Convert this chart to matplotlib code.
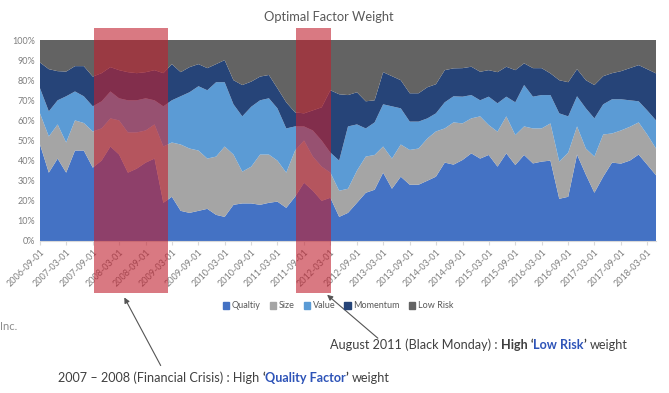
import matplotlib
matplotlib.use("Agg")
import matplotlib.pyplot as plt
import pandas as pd
from matplotlib.patches import Patch

plt.rcParams["font.family"] = ["Lato", "DejaVu Sans"]

# bi-monthly points, 2006-09 .. 2018-05
dates = pd.date_range("2006-09-01", periods=71, freq="2MS")

quality = [48, 34, 41, 34, 45, 45, 36.5, 40, 47, 43, 34, 36, 39, 41, 19, 22, 15, 14,
           15, 16, 13, 12, 18, 18.7, 18.7, 18, 19, 19.6, 16.5, 22, 29, 25, 20, 21.5,
           12, 14, 19, 24, 25.5, 34, 26, 32, 28, 28, 30, 32, 39, 38, 40.3, 43.6, 41,
           42.8, 37, 43.6, 37.8, 42.8, 38.6, 39.5, 40, 21, 22, 43, 33, 24, 32, 39,
           38.5, 40, 43, 38, 32.7]
size = [15.5, 18, 17, 15, 15, 13.7, 18, 16, 14, 17, 20, 18, 16, 17, 28, 27, 33, 32,
        30, 25, 29, 35, 25, 15.8, 18.3, 25, 24, 20.4, 17.5, 23, 21, 17, 17, 12.5,
        13, 12, 16, 18, 17.3, 13, 15, 16, 17.3, 18, 21, 22.5, 17, 21, 18.2, 17.4, 21,
        14.9, 17.4, 18.4, 14.9, 14.2, 17.4, 16.5, 18.5, 18.5, 22, 14, 13, 18, 21,
        14.5, 16.5, 16.8, 16, 15, 13.3]
value = [12.5, 12.5, 12, 23, 14.4, 13.3, 12.5, 13.5, 13.4, 11, 16, 16, 16, 12, 20,
         21, 24, 28, 32, 34, 37, 32, 25, 27.5, 29.8, 27, 28, 26, 22, 12, 7, 13, 13,
         10, 15, 31, 23, 14, 16.2, 21, 26, 18, 14.1, 13.4, 10, 9, 13, 13, 13.3, 11.6,
         8, 14.1, 14.1, 9.8, 16.3, 20.6, 15.8, 16.6, 14.1, 24, 18, 15, 20, 19, 15,
         17, 15.5, 13.2, 10.5, 12, 14]
momentum = [12.8, 21, 14.5, 12.3, 12.6, 15, 14.8, 14, 12.1, 14, 14, 13.5, 13, 15,
            16.5, 18, 12, 12.5, 11, 11, 9, 11, 12, 15.6, 12.5, 11.8, 11.6, 10, 13, 7,
            6.5, 10, 16.5, 31, 33, 15.6, 16, 13.5, 11, 16, 15, 14, 14.1, 14.1, 15.5,
            14.5, 16, 13.9, 14.2, 14.1, 14.2, 13.2, 15.5, 14.9, 16, 10.8, 14.2, 13.4,
            10.8, 16.5, 17, 13.5, 14, 16.6, 14, 13, 14, 16, 18, 20.5, 23.4]
low_risk = [11.2, 14.5, 15.5, 15.7, 13, 13, 18.2, 16.5, 13.5, 15, 16, 16.5, 16, 15,
            16.5, 12, 16, 13.5, 12, 14, 12, 10, 20, 22.4, 20.7, 18.2, 17.4, 24, 31, 36,
            36.5, 35, 33.5, 25, 27, 27.4, 26, 30.5, 30, 16, 18, 20, 26.5, 26.5, 23.5,
            22, 15, 14.1, 14, 13.3, 15.8, 15, 16, 13.3, 15, 11.6, 14, 14, 16.6, 20, 21,
            14.5, 20, 22.4, 18, 16.5, 15.5, 14, 12.5, 14.5, 16.6]

names = ["Qualtiy", "Size", "Value", "Momentum", "Low Risk"]
colors = ["#4472C4", "#A5A5A5", "#5B9BD5", "#264478", "#636363"]

tick_dates = pd.date_range("2006-09-01", "2018-03-01", freq="6MS")
crisis_spans = [("2007-09-10", "2009-02-05"), ("2011-07-10", "2012-03-05")]

W, H = 669, 393
fig = plt.figure(figsize=(W / 100, H / 100), dpi=100)
ax = fig.add_axes([40 / W, 1 - 241 / H, 616 / W, 201 / H])

series = [[v / 100 for v in s] for s in (quality, size, value, momentum, low_risk)]
ax.stackplot(dates, *series, colors=colors, linewidth=0)
ax.set_xlim(dates[0], dates[-1])
ax.set_ylim(0, 1)

ax.set_yticks([i / 10 for i in range(11)])
ax.set_yticklabels([f"{i * 10}%" for i in range(11)])
ax.set_xticks(tick_dates)
ax.set_xticklabels([d.strftime("%Y-%m-%d") for d in tick_dates], rotation=45,
                   ha="right", rotation_mode="anchor")
ax.tick_params(axis="both", labelsize=6.5, colors="#7f7f7f", length=0)
ax.tick_params(axis="x", length=3, color="#d9d9d9", pad=2)
for side in ["top", "right", "left"]:
    ax.spines[side].set_visible(False)
ax.spines["bottom"].set_color("#d9d9d9")

for start, end in crisis_spans:
    ax.axvspan(pd.Timestamp(start), pd.Timestamp(end), ymin=-0.26, ymax=1.06,
               color="#c0202f", alpha=0.6, lw=0, clip_on=False, zorder=5)

fig.text(329 / W, 1 - 17 / H, "Optimal Factor Weight", ha="center", va="center",
         fontsize=9.3, color="#595959")

handles = [Patch(color=c, label=n) for c, n in zip(colors, names)]
fig.legend(handles=handles, loc="center", bbox_to_anchor=(338 / W, 1 - 306 / H),
           ncol=5, frameon=False, fontsize=6.5, handlelength=0.7, handleheight=0.7,
           handletextpad=0.3, columnspacing=1.0, labelcolor="#595959")

fig.text(0, 1 - 327 / H, "Inc.", fontsize=8, color="#8c8c8c", va="center")


def rich_text(x, y, parts, size=9.1):
    renderer = fig.canvas.get_renderer()
    for s, color, weight in parts:
        t = fig.text(x / W, 1 - y / H, s, fontsize=size, color=color,
                     fontweight=weight, va="center", ha="left")
        x += t.get_window_extent(renderer).width


dark = "#404040"
blue = "#2E54B8"
rich_text(330, 345, [("August 2011 (Black Monday) : ", dark, "normal"),
                     ("High \u2018", dark, "bold"), ("Low Risk", blue, "bold"),
                     ("\u2019 ", dark, "bold"), ("weight", dark, "normal")])
rich_text(58, 378, [("2007 \u2013 2008 (Financial Crisis) : High ", dark, "normal"),
                    ("\u2018", dark, "bold"), ("Quality Factor", blue, "bold"),
                    ("\u2019 ", dark, "bold"), ("weight", dark, "normal")])

arrow = dict(arrowstyle="-|>", color="#555555", lw=0.8, mutation_scale=8)
ax.annotate("", xy=(325, H - 293), xytext=(380, H - 340), xycoords="figure pixels",
            textcoords="figure pixels", arrowprops=arrow)
ax.annotate("", xy=(123, H - 295), xytext=(162, H - 368), xycoords="figure pixels",
            textcoords="figure pixels", arrowprops=arrow)

fig.savefig("out.png", dpi=100)
